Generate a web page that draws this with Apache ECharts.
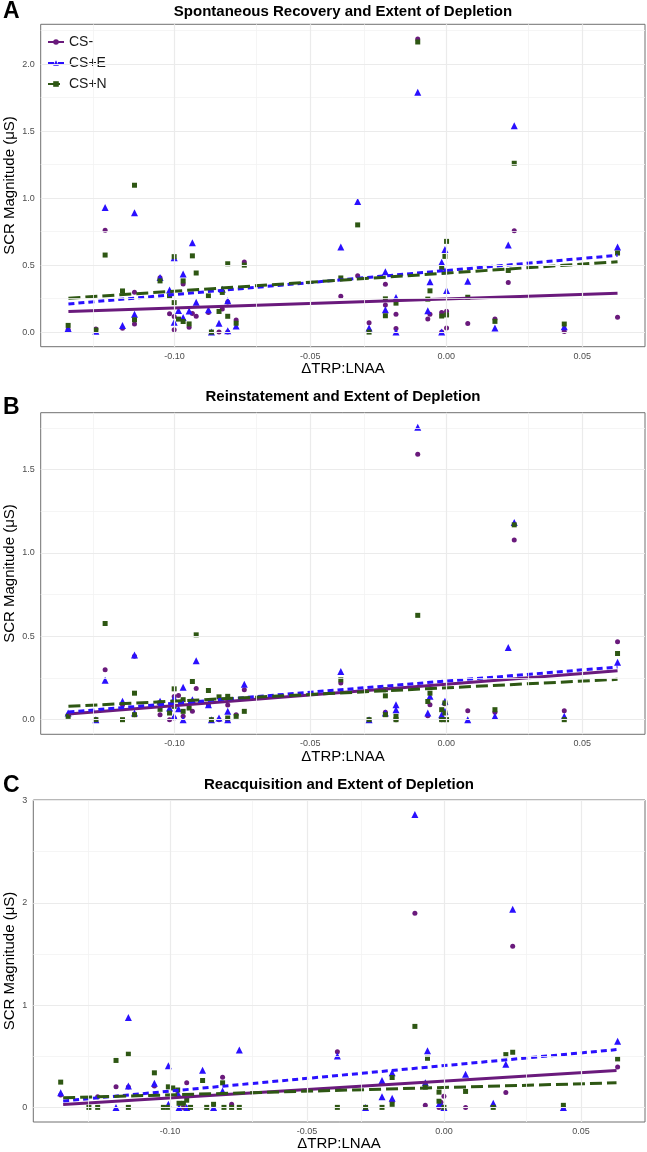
<!DOCTYPE html>
<html><head><meta charset="utf-8">
<script src="https://cdn.jsdelivr.net/npm/echarts@6/dist/echarts.min.js"></script>
<style>html,body{margin:0;padding:0;background:#fff}#c{width:647px;height:1152px}</style>
</head><body><div id="c"></div>
<script>
const seriesNames = ['CS-', 'CS+E', 'CS+N'];
const panelTitles = ['Spontaneous Recovery and Extent of Depletion', 'Reinstatement and Extent of Depletion', 'Reacquisition and Extent of Depletion'];
const panelLetters = ['A', 'B', 'C'];

// ---- Panel A points [ΔTRP:LNAA, SCR] ----
const aCSminus = [[-0.1391,0.02],[-0.1289,0.024],[-0.1255,0.76],[-0.1191,0.029],[-0.1147,0.298],[-0.1147,0.06],[-0.1053,0.405],[-0.1018,0.136],[-0.1001,0.116],[-0.1001,0.017],[-0.0968,0.359],[-0.0946,0.037],[-0.0934,0.138],[-0.0920,0.119],[-0.0875,0.146],[-0.0836,0.0],[-0.0824,0.172],[-0.0804,0.0],[-0.0804,0.225],[-0.0773,0.09],[-0.0743,0.524],[-0.0388,0.268],[-0.0326,0.42],[-0.0284,0.069],[-0.0224,0.357],[-0.0224,0.203],[-0.0185,0.134],[-0.0185,0.027],[-0.0105,2.188],[-0.0068,0.098],[-0.0060,0.134],[-0.0017,0.147],[-0.0017,0.0],[0.0001,0.155],[0.0001,0.03],[0.0079,0.065],[0.0179,0.098],[0.0228,0.37],[0.0250,0.756],[0.0434,0.005],[0.0630,0.11]];
const aCSplusE = [[-0.1391,0.026],[-0.1289,0.007],[-0.1255,0.93],[-0.1191,0.049],[-0.1147,0.89],[-0.1147,0.134],[-0.1053,0.407],[-0.1018,0.315],[-0.1001,0.555],[-0.1001,0.074],[-0.0985,0.161],[-0.0968,0.434],[-0.0968,0.109],[-0.0946,0.158],[-0.0934,0.667],[-0.0920,0.223],[-0.0875,0.166],[-0.0864,0.0],[-0.0836,0.066],[-0.0824,0.32],[-0.0804,0.233],[-0.0804,0.01],[-0.0773,0.046],[-0.0388,0.635],[-0.0326,0.975],[-0.0284,0.03],[-0.0224,0.451],[-0.0224,0.166],[-0.0185,0.258],[-0.0185,0.0],[-0.0105,1.79],[-0.0068,0.16],[-0.0060,0.375],[-0.0017,0.522],[-0.0017,0.0],[-0.0005,0.617],[-0.0005,0.457],[0.0001,0.31],[0.0079,0.38],[0.0179,0.03],[0.0228,0.65],[0.0250,1.54],[0.0434,0.04],[0.0630,0.635]];
const aCSplusN = [[-0.1391,0.05],[-0.1289,0.015],[-0.1255,0.575],[-0.1191,0.307],[-0.1147,1.096],[-0.1147,0.092],[-0.1053,0.382],[-0.1018,0.27],[-0.1001,0.563],[-0.1001,0.22],[-0.0985,0.097],[-0.0968,0.382],[-0.0968,0.079],[-0.0946,0.061],[-0.0934,0.569],[-0.0920,0.441],[-0.0875,0.27],[-0.0864,0.0],[-0.0836,0.154],[-0.0824,0.296],[-0.0804,0.51],[-0.0804,0.118],[-0.0773,0.066],[-0.0743,0.50],[-0.0388,0.404],[-0.0326,0.80],[-0.0284,0.0],[-0.0224,0.248],[-0.0224,0.122],[-0.0185,0.216],[-0.0105,2.165],[-0.0068,0.246],[-0.0060,0.308],[-0.0017,0.48],[-0.0017,0.12],[-0.0005,0.565],[0.0001,0.677],[0.0001,0.128],[0.0079,0.26],[0.0179,0.08],[0.0228,0.46],[0.0250,1.26],[0.0434,0.06],[0.0630,0.59]];

// ---- Panel B points ----
const bCSminus = [[-0.1391,0.03],[-0.1289,0.0],[-0.1255,0.299],[-0.1191,0.09],[-0.1147,0.38],[-0.1147,0.03],[-0.1053,0.03],[-0.1018,0.0],[-0.1001,0.139],[-0.1001,0.01],[-0.0985,0.145],[-0.0968,0.02],[-0.0934,0.05],[-0.0920,0.187],[-0.0875,0.088],[-0.0836,0.0],[-0.0804,0.088],[-0.0804,0.0],[-0.0773,0.03],[-0.0743,0.179],[-0.0388,0.22],[-0.0284,0.0],[-0.0224,0.044],[-0.0185,0.0],[-0.0105,1.593],[-0.0068,0.024],[-0.0060,0.089],[-0.0017,0.0],[-0.0005,0.095],[-0.0005,0.0],[0.0079,0.054],[0.0179,0.044],[0.0250,1.078],[0.0434,0.054],[0.0630,0.467]];
const bCSplusE = [[-0.1391,0.04],[-0.1289,0.0],[-0.1255,0.237],[-0.1191,0.111],[-0.1147,0.388],[-0.1147,0.04],[-0.1053,0.11],[-0.1018,0.07],[-0.1001,0.13],[-0.1001,0.02],[-0.0985,0.066],[-0.0968,0.195],[-0.0968,0.0],[-0.0934,0.12],[-0.0920,0.354],[-0.0875,0.09],[-0.0864,0.0],[-0.0836,0.01],[-0.0804,0.05],[-0.0804,0.0],[-0.0743,0.213],[-0.0388,0.289],[-0.0284,0.0],[-0.0224,0.04],[-0.0185,0.089],[-0.0185,0.06],[-0.0105,1.754],[-0.0068,0.04],[-0.0060,0.14],[-0.0017,0.03],[-0.0005,0.11],[-0.0005,0.05],[0.0079,0.0],[0.0179,0.02],[0.0228,0.433],[0.0250,1.183],[0.0434,0.02],[0.0630,0.344]];
const bCSplusN = [[-0.1391,0.02],[-0.1289,0.0],[-0.1255,0.577],[-0.1191,0.0],[-0.1147,0.159],[-0.1147,0.03],[-0.1053,0.062],[-0.1053,0.10],[-0.1018,0.04],[-0.1001,0.185],[-0.1001,0.08],[-0.0968,0.12],[-0.0968,0.05],[-0.0946,0.07],[-0.0934,0.229],[-0.0920,0.509],[-0.0875,0.175],[-0.0864,0.0],[-0.0836,0.137],[-0.0804,0.14],[-0.0804,0.01],[-0.0773,0.02],[-0.0743,0.05],[-0.0388,0.239],[-0.0284,0.0],[-0.0224,0.18],[-0.0224,0.143],[-0.0224,0.03],[-0.0185,0.02],[-0.0185,0.0],[-0.0105,0.626],[-0.0068,0.109],[-0.0060,0.159],[-0.0017,0.06],[-0.0017,0.0],[-0.0005,0.10],[-0.0005,0.04],[0.0001,0.0],[0.0179,0.06],[0.0250,1.169],[0.0434,0.0],[0.0630,0.397]];

// ---- Panel C points ----
const cCSminus = [[-0.1399,0.12],[-0.1264,0.104],[-0.1197,0.201],[-0.1152,0.20],[-0.1057,0.21],[-0.0951,0.0],[-0.0939,0.24],[-0.0808,0.294],[-0.0775,0.03],[-0.0389,0.545],[-0.0189,0.06],[-0.0106,1.899],[-0.0068,0.02],[-0.0068,0.224],[-0.0018,0.0],[-0.0011,0.05],[0.0,0.11],[0.0079,0.0],[0.0180,0.01],[0.0226,0.146],[0.0251,1.576],[0.0436,0.0],[0.0634,0.396]];
const cCSplusE = [[-0.1399,0.143],[-0.1197,0.0],[-0.1152,0.879],[-0.1152,0.208],[-0.1057,0.237],[-0.1006,0.406],[-0.1006,0.03],[-0.0972,0.14],[-0.0967,0.0],[-0.0939,0.0],[-0.0881,0.363],[-0.0841,0.0],[-0.0808,0.16],[-0.0747,0.561],[-0.0389,0.503],[-0.0286,0.0],[-0.0226,0.263],[-0.0226,0.104],[-0.0189,0.338],[-0.0189,0.09],[-0.0106,2.863],[-0.0068,0.24],[-0.0060,0.555],[-0.0018,0.03],[-0.0011,0.03],[0.0,0.0],[0.0079,0.325],[0.0180,0.04],[0.0226,0.422],[0.0251,1.938],[0.0436,0.0],[0.0634,0.646]];
const cCSplusN = [[-0.1399,0.247],[-0.1296,0.0],[-0.1264,0.0],[-0.1197,0.459],[-0.1152,0.52],[-0.1152,0.0],[-0.1057,0.338],[-0.1024,0.0],[-0.1006,0.201],[-0.1006,0.0],[-0.0990,0.19],[-0.0972,0.17],[-0.0967,0.04],[-0.0951,0.04],[-0.0939,0.07],[-0.0925,0.0],[-0.0881,0.263],[-0.0866,0.0],[-0.0841,0.03],[-0.0808,0.24],[-0.0803,0.0],[-0.0775,0.0],[-0.0747,0.0],[-0.0389,0.0],[-0.0286,0.0],[-0.0226,0.0],[-0.0189,0.292],[-0.0189,0.03],[-0.0106,0.792],[-0.0068,0.198],[-0.0060,0.48],[-0.0018,0.149],[-0.0018,0.06],[0.0,0.0],[0.0079,0.156],[0.0180,0.0],[0.0226,0.516],[0.0251,0.539],[0.0436,0.02],[0.0634,0.474]];

// ---- Fitted regression lines: x ends and y at those ends ----
const fitX = [-0.139, 0.063];
const aFitCSminus = [0.153, 0.29], aFitCSplusE = [0.21, 0.573], aFitCSplusN = [0.253, 0.525];
const bFitCSminus = [0.034, 0.294], bFitCSplusE = [0.046, 0.316], bFitCSplusN = [0.080, 0.242];
const cFitCSminus = [0.029, 0.36], cFitCSplusE = [0.062, 0.565], cFitCSplusN = [0.094, 0.240];

// ---- Ticks ----
const xMajorTicks = [-0.10, -0.05, 0.00, 0.05];
const xMinorTicks = [-0.125, -0.075, -0.025, 0.025];
const aYMajorTicks = [0, 0.5, 1.0, 1.5, 2.0], aYMinorTicks = [0.25, 0.75, 1.25, 1.75, 2.25];
const bYMajorTicks = [0, 0.5, 1.0, 1.5], bYMinorTicks = [0.25, 0.75, 1.25, 1.75];
const cYMajorTicks = [0, 1, 2, 3], cYMinorTicks = [0.5, 1.5, 2.5];

const colors = ['#6A1A7C', '#2A10FF', '#2E5713'];
const symbols = ['circle', 'triangle', 'rect'];
const symbolSizes = [5, 7, 5];
const dashes = ['solid', [6, 4], [12, 5]];
const FONT = '"Liberation Sans", Arial, Helvetica, sans-serif';

const panels = [
  {grid: {left: 40.7, top: 24.3, right: 2, height: 322.4}, x: [-0.1492, 0.0731], y: [-0.109, 2.297], yDec: 1,
   pts: [aCSminus, aCSplusE, aCSplusN], fits: [aFitCSminus, aFitCSplusE, aFitCSplusN], yMaj: aYMajorTicks, yMin: aYMinorTicks},
  {grid: {left: 40.7, top: 412.7, right: 2, height: 321.6}, x: [-0.1492, 0.0731], y: [-0.0877, 1.8417], yDec: 1,
   pts: [bCSminus, bCSplusE, bCSplusN], fits: [bFitCSminus, bFitCSplusE, bFitCSplusN], yMaj: bYMajorTicks, yMin: bYMinorTicks},
  {grid: {left: 33.3, top: 800, right: 2, height: 322}, x: [-0.1499, 0.0734], y: [-0.143, 3.006], yDec: 0,
   pts: [cCSminus, cCSplusE, cCSplusN], fits: [cFitCSminus, cFitCSplusE, cFitCSplusN], yMaj: cYMajorTicks, yMin: cYMinorTicks}
];

const option = {
  animation: false,
  backgroundColor: '#ffffff',
  textStyle: {fontFamily: FONT},
  grid: [], xAxis: [], yAxis: [], series: [],
  legend: {
    data: seriesNames, orient: 'vertical', left: 44, top: 33,
    itemWidth: 16, itemHeight: 7, itemGap: 7,
    backgroundColor: '#ffffff', padding: [2, 3, 2, 3],
    textStyle: {fontSize: 14, color: '#1a1a1a', fontFamily: FONT}
  },
  graphic: []
};

const GRID_MAJOR = '#EBEBEB', GRID_MINOR = '#F3F3F3';

panels.forEach((p, i) => {
  option.grid.push(Object.assign({show: true, borderColor: '#707070', borderWidth: 1, backgroundColor: '#fff'}, p.grid));
  option.xAxis.push({
    type: 'value', gridIndex: i, min: p.x[0], max: p.x[1],
    splitLine: {show: false}, axisLine: {show: false},
    axisTick: {show: true, customValues: xMajorTicks, length: 3, lineStyle: {color: '#333'}},
    axisLabel: {customValues: xMajorTicks, fontSize: 9, color: '#4D4D4D', margin: 5, fontFamily: FONT,
                formatter: v => v.toFixed(2)}
  });
  option.yAxis.push({
    type: 'value', gridIndex: i, min: p.y[0], max: p.y[1],
    splitLine: {show: false}, axisLine: {show: false},
    axisTick: {show: true, customValues: p.yMaj, length: 3, lineStyle: {color: '#333'}},
    axisLabel: {customValues: p.yMaj, fontSize: 9, color: '#4D4D4D', margin: 6, fontFamily: FONT,
                formatter: v => v.toFixed(p.yDec)}
  });
  // grid lines as mark lines driven by tick arrays
  const ml = [];
  p.yMin.forEach(v => ml.push({yAxis: v, lineStyle: {color: GRID_MINOR, width: 0.8, type: 'solid'}}));
  xMinorTicks.forEach(v => ml.push({xAxis: v, lineStyle: {color: GRID_MINOR, width: 0.8, type: 'solid'}}));
  p.yMaj.forEach(v => ml.push({yAxis: v, lineStyle: {color: GRID_MAJOR, width: 1.2, type: 'solid'}}));
  xMajorTicks.forEach(v => ml.push({xAxis: v, lineStyle: {color: GRID_MAJOR, width: 1.2, type: 'solid'}}));
  option.series.push({
    type: 'scatter', xAxisIndex: i, yAxisIndex: i, data: [], z: 1, silent: true,
    markLine: {silent: true, symbol: ['none', 'none'], label: {show: false}, animation: false, data: ml}
  });
  // fitted lines
  seriesNames.forEach((name, k) => {
    option.series.push({
      type: 'line', name: name, xAxisIndex: i, yAxisIndex: i, z: 4,
      data: [[fitX[0], p.fits[k][0]], [fitX[1], p.fits[k][1]]],
      symbol: symbols[k], symbolSize: symbolSizes[k], showSymbol: false,
      itemStyle: {color: colors[k]},
      lineStyle: {color: colors[k], width: 3, type: dashes[k]}
    });
  });
  // points
  seriesNames.forEach((name, k) => {
    option.series.push({
      type: 'scatter', name: name, xAxisIndex: i, yAxisIndex: i, z: 3,
      data: p.pts[k], symbol: symbols[k], symbolSize: symbolSizes[k],
      itemStyle: {color: colors[k], opacity: 1}
    });
  });
});

// titles, panel letters, axis titles
const titleY = [12, 397, 785];
const letterY = [12, 408, 786];
const xTitleY = [369, 757, 1144];
const plotCenterX = [343, 343, 339];
const plotCenterY = [185.5, 573.5, 961];
panels.forEach((p, i) => {
  option.graphic.push({type: 'text', left: 3, top: letterY[i] - 12, style: {text: panelLetters[i], fontSize: 23, fontWeight: 'bold', fill: '#000', fontFamily: FONT}});
  option.graphic.push({type: 'text', x: plotCenterX[i], y: titleY[i], style: {text: panelTitles[i], fontSize: 15, fontWeight: 'bold', fill: '#000', align: 'center', verticalAlign: 'middle', fontFamily: FONT}});
  option.graphic.push({type: 'text', x: plotCenterX[i], y: xTitleY[i], style: {text: 'ΔTRP:LNAA', fontSize: 15, fill: '#000', align: 'center', verticalAlign: 'middle', fontFamily: FONT}});
  option.graphic.push({type: 'text', x: 9.5, y: plotCenterY[i], rotation: Math.PI / 2, style: {text: 'SCR Magnitude (μS)', fontSize: 15, fill: '#000', align: 'center', verticalAlign: 'middle', fontFamily: FONT}});
});

const chart = echarts.init(document.getElementById('c'), null, {renderer: 'canvas'});
chart.setOption(option);
</script>
</body></html>
